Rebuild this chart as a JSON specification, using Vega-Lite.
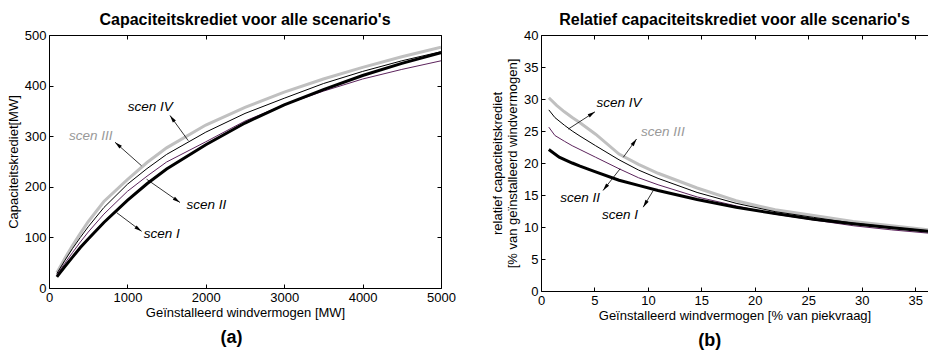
{
  "$schema": "https://vega.github.io/schema/vega-lite/v6.json",
  "background": "white",
  "padding": {"left": 7, "top": 12, "right": 0, "bottom": 0},
  "spacing": 35,
  "config": {
    "font": "Liberation Sans",
    "view": {"stroke": null},
    "axis": {
      "domainColor": "black", "domainWidth": 1, "tickColor": "black", "tickWidth": 1,
      "tickSize": -4, "labelPadding": 7, "grid": false,
      "labelColor": "black", "titleColor": "black",
      "labelFont": "Liberation Sans", "titleFont": "Liberation Sans",
      "labelFontSize": 13, "titleFontSize": 13, "titleFontWeight": "normal",
      "labelFlush": false, "labelOverlap": false, "format": "d"
    },
    "title": {"font": "Liberation Sans", "fontSize": 16, "fontWeight": "bold", "color": "black"}
  },
  "datasets": {
    "cap": [
      {"scen": "scen III", "mw": 100, "cap": 30.2}, {"scen": "scen III", "mw": 200, "cap": 58}, {"scen": "scen III", "mw": 300, "cap": 84}, {"scen": "scen III", "mw": 400, "cap": 108}, {"scen": "scen III", "mw": 500, "cap": 131}, {"scen": "scen III", "mw": 700, "cap": 171}, {"scen": "scen III", "mw": 1000, "cap": 214}, {"scen": "scen III", "mw": 1250, "cap": 248}, {"scen": "scen III", "mw": 1500, "cap": 277}, {"scen": "scen III", "mw": 2000, "cap": 322}, {"scen": "scen III", "mw": 2500, "cap": 357}, {"scen": "scen III", "mw": 3000, "cap": 387}, {"scen": "scen III", "mw": 3500, "cap": 413}, {"scen": "scen III", "mw": 4000, "cap": 436}, {"scen": "scen III", "mw": 4500, "cap": 457}, {"scen": "scen III", "mw": 5000, "cap": 476},
      {"scen": "scen IV", "mw": 100, "cap": 28.3}, {"scen": "scen IV", "mw": 200, "cap": 54}, {"scen": "scen IV", "mw": 300, "cap": 78}, {"scen": "scen IV", "mw": 400, "cap": 100}, {"scen": "scen IV", "mw": 500, "cap": 121}, {"scen": "scen IV", "mw": 700, "cap": 159}, {"scen": "scen IV", "mw": 1000, "cap": 205}, {"scen": "scen IV", "mw": 1250, "cap": 236}, {"scen": "scen IV", "mw": 1500, "cap": 264}, {"scen": "scen IV", "mw": 2000, "cap": 308}, {"scen": "scen IV", "mw": 2500, "cap": 345}, {"scen": "scen IV", "mw": 3000, "cap": 375}, {"scen": "scen IV", "mw": 3500, "cap": 404}, {"scen": "scen IV", "mw": 4000, "cap": 428}, {"scen": "scen IV", "mw": 4500, "cap": 449}, {"scen": "scen IV", "mw": 5000, "cap": 467},
      {"scen": "scen II", "mw": 100, "cap": 25.6}, {"scen": "scen II", "mw": 200, "cap": 48.5}, {"scen": "scen II", "mw": 300, "cap": 70}, {"scen": "scen II", "mw": 400, "cap": 91}, {"scen": "scen II", "mw": 500, "cap": 110.5}, {"scen": "scen II", "mw": 700, "cap": 146}, {"scen": "scen II", "mw": 1000, "cap": 191}, {"scen": "scen II", "mw": 1250, "cap": 221}, {"scen": "scen II", "mw": 1500, "cap": 249}, {"scen": "scen II", "mw": 2000, "cap": 289}, {"scen": "scen II", "mw": 2500, "cap": 330}, {"scen": "scen II", "mw": 3000, "cap": 362}, {"scen": "scen II", "mw": 3500, "cap": 389}, {"scen": "scen II", "mw": 4000, "cap": 413}, {"scen": "scen II", "mw": 4500, "cap": 432}, {"scen": "scen II", "mw": 5000, "cap": 449},
      {"scen": "scen I", "mw": 100, "cap": 22.1}, {"scen": "scen I", "mw": 200, "cap": 42}, {"scen": "scen I", "mw": 300, "cap": 61}, {"scen": "scen I", "mw": 400, "cap": 80}, {"scen": "scen I", "mw": 500, "cap": 97}, {"scen": "scen I", "mw": 700, "cap": 129.5}, {"scen": "scen I", "mw": 1000, "cap": 173}, {"scen": "scen I", "mw": 1250, "cap": 206}, {"scen": "scen I", "mw": 1500, "cap": 235}, {"scen": "scen I", "mw": 2000, "cap": 283}, {"scen": "scen I", "mw": 2500, "cap": 326}, {"scen": "scen I", "mw": 3000, "cap": 362}, {"scen": "scen I", "mw": 3500, "cap": 392}, {"scen": "scen I", "mw": 4000, "cap": 420}, {"scen": "scen I", "mw": 4500, "cap": 444}, {"scen": "scen I", "mw": 5000, "cap": 465}
    ],
    "rel": [
      {"scen": "scen III", "pct": 0.73, "rel": 30.2}, {"scen": "scen III", "pct": 1.46, "rel": 29.0}, {"scen": "scen III", "pct": 2.19, "rel": 28.0}, {"scen": "scen III", "pct": 2.92, "rel": 27.1}, {"scen": "scen III", "pct": 3.65, "rel": 26.3}, {"scen": "scen III", "pct": 5.11, "rel": 24.5}, {"scen": "scen III", "pct": 7.3, "rel": 21.4}, {"scen": "scen III", "pct": 9.12, "rel": 19.8}, {"scen": "scen III", "pct": 10.95, "rel": 18.4}, {"scen": "scen III", "pct": 14.6, "rel": 16.1}, {"scen": "scen III", "pct": 18.25, "rel": 14.1}, {"scen": "scen III", "pct": 21.9, "rel": 12.7}, {"scen": "scen III", "pct": 25.5, "rel": 11.8}, {"scen": "scen III", "pct": 29.2, "rel": 10.85}, {"scen": "scen III", "pct": 32.8, "rel": 10.2}, {"scen": "scen III", "pct": 36.5, "rel": 9.5},
      {"scen": "scen IV", "pct": 0.73, "rel": 28.3}, {"scen": "scen IV", "pct": 1.3, "rel": 27.1}, {"scen": "scen IV", "pct": 2.19, "rel": 25.9}, {"scen": "scen IV", "pct": 2.92, "rel": 25.0}, {"scen": "scen IV", "pct": 3.65, "rel": 24.2}, {"scen": "scen IV", "pct": 5.11, "rel": 22.7}, {"scen": "scen IV", "pct": 7.3, "rel": 20.5}, {"scen": "scen IV", "pct": 9.12, "rel": 18.9}, {"scen": "scen IV", "pct": 10.95, "rel": 17.6}, {"scen": "scen IV", "pct": 14.6, "rel": 15.4}, {"scen": "scen IV", "pct": 18.25, "rel": 13.7}, {"scen": "scen IV", "pct": 21.9, "rel": 12.4}, {"scen": "scen IV", "pct": 25.5, "rel": 11.5}, {"scen": "scen IV", "pct": 29.2, "rel": 10.6}, {"scen": "scen IV", "pct": 32.8, "rel": 9.95}, {"scen": "scen IV", "pct": 36.5, "rel": 9.35},
      {"scen": "scen II", "pct": 0.73, "rel": 25.6}, {"scen": "scen II", "pct": 1.3, "rel": 24.3}, {"scen": "scen II", "pct": 2.19, "rel": 23.4}, {"scen": "scen II", "pct": 2.92, "rel": 22.7}, {"scen": "scen II", "pct": 3.65, "rel": 22.1}, {"scen": "scen II", "pct": 5.11, "rel": 20.9}, {"scen": "scen II", "pct": 7.3, "rel": 19.1}, {"scen": "scen II", "pct": 9.12, "rel": 17.7}, {"scen": "scen II", "pct": 10.95, "rel": 16.6}, {"scen": "scen II", "pct": 14.6, "rel": 14.7}, {"scen": "scen II", "pct": 18.25, "rel": 13.3}, {"scen": "scen II", "pct": 21.9, "rel": 12.0}, {"scen": "scen II", "pct": 25.5, "rel": 11.1}, {"scen": "scen II", "pct": 29.2, "rel": 10.2}, {"scen": "scen II", "pct": 32.8, "rel": 9.55}, {"scen": "scen II", "pct": 36.5, "rel": 9.0},
      {"scen": "scen I", "pct": 0.73, "rel": 22.1}, {"scen": "scen I", "pct": 1.7, "rel": 20.9}, {"scen": "scen I", "pct": 2.92, "rel": 20.0}, {"scen": "scen I", "pct": 3.65, "rel": 19.5}, {"scen": "scen I", "pct": 5.11, "rel": 18.6}, {"scen": "scen I", "pct": 7.3, "rel": 17.3}, {"scen": "scen I", "pct": 9.12, "rel": 16.5}, {"scen": "scen I", "pct": 10.95, "rel": 15.7}, {"scen": "scen I", "pct": 14.6, "rel": 14.3}, {"scen": "scen I", "pct": 18.25, "rel": 13.1}, {"scen": "scen I", "pct": 21.9, "rel": 12.1}, {"scen": "scen I", "pct": 25.5, "rel": 11.2}, {"scen": "scen I", "pct": 29.2, "rel": 10.5}, {"scen": "scen I", "pct": 32.8, "rel": 9.9}, {"scen": "scen I", "pct": 36.5, "rel": 9.3}
    ],
    "annA": [
      {"label": "scen IV", "x": 1292, "y": 358},
      {"label": "scen III", "x": 533, "y": 300},
      {"label": "scen II", "x": 2006, "y": 165},
      {"label": "scen I", "x": 1439, "y": 106}
    ],
    "arrA": [
      {"label": "scen IV", "x1": 1777, "y1": 291, "x2": 1543, "y2": 341},
      {"label": "scen III", "x1": 1181, "y1": 241.5, "x2": 842, "y2": 288},
      {"label": "scen II", "x1": 1245, "y1": 215, "x2": 1671, "y2": 169},
      {"label": "scen I", "x1": 862, "y1": 149, "x2": 1181, "y2": 112}
    ],
    "annB": [
      {"label": "scen IV", "x": 7.3, "y": 29.4},
      {"label": "scen III", "x": 11.4, "y": 24.8},
      {"label": "scen II", "x": 3.65, "y": 14.6},
      {"label": "scen I", "x": 7.4, "y": 11.8}
    ],
    "arrB": [
      {"label": "scen IV", "x1": 2.55, "y1": 25.3, "x2": 5.05, "y2": 28.0},
      {"label": "scen III", "x1": 7.7, "y1": 20.9, "x2": 8.94, "y2": 23.75},
      {"label": "scen II", "x1": 7.4, "y1": 19.1, "x2": 5.8, "y2": 15.7},
      {"label": "scen I", "x1": 10.5, "y1": 15.7, "x2": 9.56, "y2": 13.1}
    ]
  },
  "hconcat": [
    {
      "title": {"text": "(a)", "orient": "bottom", "anchor": "middle", "frame": "bounds", "fontSize": 18, "offset": 10},
      "vconcat": [
        {
          "title": {"text": "Capaciteitskrediet voor alle scenario's", "anchor": "middle", "offset": 1},
          "width": 392,
          "height": 253,
          "resolve": {"axis": {"x": "independent", "y": "independent"}},
          "layer": [
            {
              "data": {"name": "cap"},
              "mark": {"type": "line", "clip": true},
              "encoding": {
                "x": {"field": "mw", "type": "quantitative", "scale": {"domain": [0, 5000], "nice": false, "zero": false},
                      "axis": {"orient": "bottom", "title": "Geïnstalleerd windvermogen [MW]", "values": [0, 1000, 2000, 3000, 4000, 5000], "titlePadding": 2}},
                "y": {"field": "cap", "type": "quantitative", "scale": {"domain": [0, 500], "nice": false},
                      "axis": {"orient": "left", "title": "Capaciteitskrediet[MW]", "values": [0, 100, 200, 300, 400, 500], "titlePadding": 4}},
                "color": {"field": "scen", "type": "nominal", "scale": {"domain": ["scen I", "scen II", "scen III", "scen IV"], "range": ["#000000", "#5c235c", "#c0c0c0", "#000000"]}, "legend": null},
                "strokeWidth": {"condition": {"test": "datum.scen === 'scen I' || datum.scen === 'scen III'", "value": 3}, "value": 1}
              }
            },
            {
              "data": {"name": "arrA"},
              "mark": {"type": "rule", "strokeWidth": 0.8, "color": "black"},
              "encoding": {
                "x": {"field": "x1", "type": "quantitative", "axis": null},
                "y": {"field": "y1", "type": "quantitative", "axis": null},
                "x2": {"field": "x2"},
                "y2": {"field": "y2"}
              }
            },
            {
              "data": {"name": "arrA"},
              "transform": [{"filter": "datum.label === 'scen IV'"}],
              "mark": {"type": "point", "shape": "M0,0L1,4L-1,4Z", "filled": true, "color": "black", "opacity": 1, "size": 14, "angle": -36},
              "encoding": {"x": {"field": "x2", "type": "quantitative", "axis": null}, "y": {"field": "y2", "type": "quantitative", "axis": null}}
            },
            {
              "data": {"name": "arrA"},
              "transform": [{"filter": "datum.label === 'scen III'"}],
              "mark": {"type": "point", "shape": "M0,0L1,4L-1,4Z", "filled": true, "color": "black", "opacity": 1, "size": 14, "angle": -49},
              "encoding": {"x": {"field": "x2", "type": "quantitative", "axis": null}, "y": {"field": "y2", "type": "quantitative", "axis": null}}
            },
            {
              "data": {"name": "arrA"},
              "transform": [{"filter": "datum.label === 'scen II'"}],
              "mark": {"type": "point", "shape": "M0,0L1,4L-1,4Z", "filled": true, "color": "black", "opacity": 1, "size": 14, "angle": 125},
              "encoding": {"x": {"field": "x2", "type": "quantitative", "axis": null}, "y": {"field": "y2", "type": "quantitative", "axis": null}}
            },
            {
              "data": {"name": "arrA"},
              "transform": [{"filter": "datum.label === 'scen I'"}],
              "mark": {"type": "point", "shape": "M0,0L1,4L-1,4Z", "filled": true, "color": "black", "opacity": 1, "size": 14, "angle": 126},
              "encoding": {"x": {"field": "x2", "type": "quantitative", "axis": null}, "y": {"field": "y2", "type": "quantitative", "axis": null}}
            },
            {
              "data": {"name": "annA"},
              "mark": {"type": "text", "fontStyle": "italic", "fontSize": 13.5, "align": "center", "baseline": "middle"},
              "encoding": {
                "x": {"field": "x", "type": "quantitative", "axis": {"orient": "top", "labels": false, "title": null, "values": [0, 1000, 2000, 3000, 4000, 5000]}},
                "y": {"field": "y", "type": "quantitative", "axis": {"orient": "right", "labels": false, "title": null, "values": [0, 100, 200, 300, 400, 500]}},
                "text": {"field": "label"},
                "color": {"condition": {"test": "datum.label === 'scen III'", "value": "#999999"}, "value": "black"}
              }
            }
          ]
        }
      ]
    },
    {
      "title": {"text": "(b)", "orient": "bottom", "anchor": "middle", "frame": "bounds", "fontSize": 18, "offset": 10},
      "vconcat": [
        {
          "title": {"text": "Relatief capaciteitskrediet voor alle scenario's", "anchor": "middle", "offset": 1},
          "width": 387,
          "height": 256,
          "resolve": {"axis": {"x": "independent", "y": "independent"}},
          "layer": [
            {
              "data": {"name": "rel"},
              "mark": {"type": "line", "clip": true},
              "encoding": {
                "x": {"field": "pct", "type": "quantitative", "scale": {"domain": [0, 36.2], "nice": false, "zero": false},
                      "axis": {"orient": "bottom", "title": "Geïnstalleerd windvermogen [% van piekvraag]", "values": [0, 5, 10, 15, 20, 25, 30, 35], "titlePadding": 2}},
                "y": {"field": "rel", "type": "quantitative", "scale": {"domain": [0, 40], "nice": false},
                      "axis": {"orient": "left", "title": ["relatief capaciteitskrediet", "[% van geïnstalleerd windvermogen]"], "values": [0, 5, 10, 15, 20, 25, 30, 35, 40], "titlePadding": 4}},
                "color": {"field": "scen", "type": "nominal", "scale": {"domain": ["scen I", "scen II", "scen III", "scen IV"], "range": ["#000000", "#5c235c", "#c0c0c0", "#000000"]}, "legend": null},
                "strokeWidth": {"condition": {"test": "datum.scen === 'scen I' || datum.scen === 'scen III'", "value": 3}, "value": 1}
              }
            },
            {
              "data": {"name": "arrB"},
              "mark": {"type": "rule", "strokeWidth": 0.8, "color": "black"},
              "encoding": {
                "x": {"field": "x1", "type": "quantitative", "axis": null},
                "y": {"field": "y1", "type": "quantitative", "axis": null},
                "x2": {"field": "x2"},
                "y2": {"field": "y2"}
              }
            },
            {
              "data": {"name": "arrB"},
              "transform": [{"filter": "datum.label === 'scen IV'"}],
              "mark": {"type": "point", "shape": "M0,0L1,4L-1,4Z", "filled": true, "color": "black", "opacity": 1, "size": 14, "angle": 57},
              "encoding": {"x": {"field": "x2", "type": "quantitative", "axis": null}, "y": {"field": "y2", "type": "quantitative", "axis": null}}
            },
            {
              "data": {"name": "arrB"},
              "transform": [{"filter": "datum.label === 'scen III'"}],
              "mark": {"type": "point", "shape": "M0,0L1,4L-1,4Z", "filled": true, "color": "black", "opacity": 1, "size": 14, "angle": 36},
              "encoding": {"x": {"field": "x2", "type": "quantitative", "axis": null}, "y": {"field": "y2", "type": "quantitative", "axis": null}}
            },
            {
              "data": {"name": "arrB"},
              "transform": [{"filter": "datum.label === 'scen II'"}],
              "mark": {"type": "point", "shape": "M0,0L1,4L-1,4Z", "filled": true, "color": "black", "opacity": 1, "size": 14, "angle": -142},
              "encoding": {"x": {"field": "x2", "type": "quantitative", "axis": null}, "y": {"field": "y2", "type": "quantitative", "axis": null}}
            },
            {
              "data": {"name": "arrB"},
              "transform": [{"filter": "datum.label === 'scen I'"}],
              "mark": {"type": "point", "shape": "M0,0L1,4L-1,4Z", "filled": true, "color": "black", "opacity": 1, "size": 14, "angle": -149},
              "encoding": {"x": {"field": "x2", "type": "quantitative", "axis": null}, "y": {"field": "y2", "type": "quantitative", "axis": null}}
            },
            {
              "data": {"name": "annB"},
              "mark": {"type": "text", "fontStyle": "italic", "fontSize": 13.5, "align": "center", "baseline": "middle"},
              "encoding": {
                "x": {"field": "x", "type": "quantitative", "axis": {"orient": "top", "labels": false, "title": null, "values": [0, 5, 10, 15, 20, 25, 30, 35]}},
                "y": {"field": "y", "type": "quantitative", "axis": null},
                "text": {"field": "label"},
                "color": {"condition": {"test": "datum.label === 'scen III'", "value": "#999999"}, "value": "black"}
              }
            }
          ]
        }
      ]
    }
  ]
}
